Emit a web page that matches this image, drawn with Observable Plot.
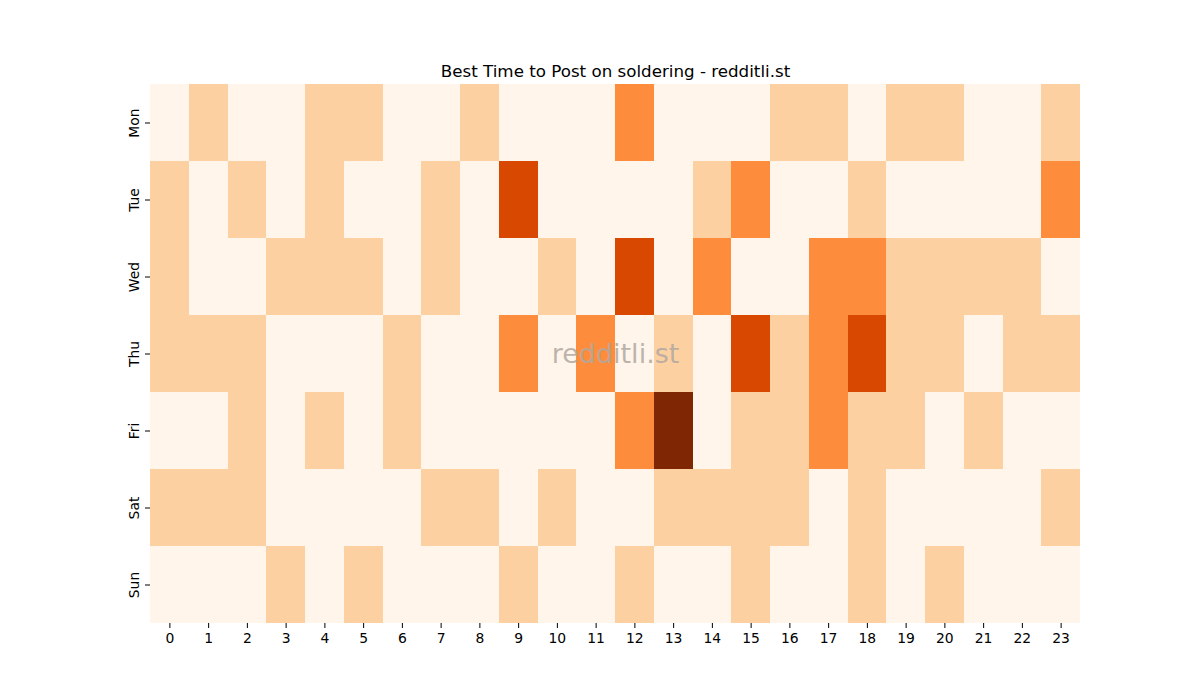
<!DOCTYPE html>
<html>
<head>
<meta charset="utf-8">
<script src="https://cdn.jsdelivr.net/npm/d3@7"></script>
<script src="https://cdn.jsdelivr.net/npm/@observablehq/plot@0.6"></script>
<style>
  body { margin: 0; background: #fff; }
  svg { font-family: "DejaVu Sans", sans-serif; }
</style>
</head>
<body>
<div id="chart"></div>
<script>
const titleText = "Best Time to Post on soldering - redditli.st";
const watermark = "redditli.st";
const days = ["Mon", "Tue", "Wed", "Thu", "Fri", "Sat", "Sun"];
const hours = d3.range(24);
const mon = [0,1,0,0,1,1,0,0,1,0,0,0,2,0,0,0,1,1,0,1,1,0,0,1];
const tue = [1,0,1,0,1,0,0,1,0,3,0,0,0,0,1,2,0,0,1,0,0,0,0,2];
const wed = [1,0,0,1,1,1,0,1,0,0,1,0,3,0,2,0,0,2,2,1,1,1,1,0];
const thu = [1,1,1,0,0,0,1,0,0,2,0,2,0,1,0,3,1,2,3,1,1,0,1,1];
const fri = [0,0,1,0,1,0,1,0,0,0,0,0,2,4,0,1,1,2,1,1,0,1,0,0];
const sat = [1,1,1,0,0,0,0,1,1,0,1,0,0,1,1,1,1,0,1,0,0,0,0,1];
const sun = [0,0,0,1,0,1,0,0,0,1,0,0,1,0,0,1,0,0,1,0,1,0,0,0];
const rows = [mon, tue, wed, thu, fri, sat, sun];
const colorDomain = [0, 1, 2, 3, 4];
const colorRange = ["#fff5eb", "#fdd0a2", "#fd8d3c", "#d94801", "#7f2704"];

const data = [];
rows.forEach((r, i) => r.forEach((v, h) => data.push({day: days[i], hour: h, value: v})));

const chart = Plot.plot({
  width: 1200,
  height: 700,
  marginLeft: 150,
  marginRight: 120,
  marginTop: 84,
  marginBottom: 77,
  style: {fontFamily: "DejaVu Sans, sans-serif", fontSize: "13.9px", color: "#000", background: "#fff"},
  x: {type: "band", domain: hours, padding: 0, round: false, label: null},
  y: {type: "band", domain: days, padding: 0, round: false, label: null},
  color: {type: "linear", domain: colorDomain, range: colorRange, interpolate: "rgb"},
  marks: [
    Plot.cell(data, {x: "hour", y: "day", fill: "value", inset: 0, shapeRendering: "crispEdges"}),
    Plot.axisX({tickSize: 5, tickPadding: 5, fontSize: 13.9, stroke: "#000"}),
    Plot.axisY({tickSize: 5, tickPadding: 7, tickRotate: -90, fontSize: 13.9, stroke: "#000"}),
    Plot.text([watermark], {frameAnchor: "middle", fill: "#b0a8a0", fillOpacity: 0.85, fontSize: 27, text: d => d}),
    Plot.text([titleText], {frameAnchor: "top", dy: -8, lineAnchor: "bottom", fontSize: 16.7, fill: "#000", text: d => d})
  ]
});
document.getElementById("chart").appendChild(chart);
</script>
</body>
</html>
